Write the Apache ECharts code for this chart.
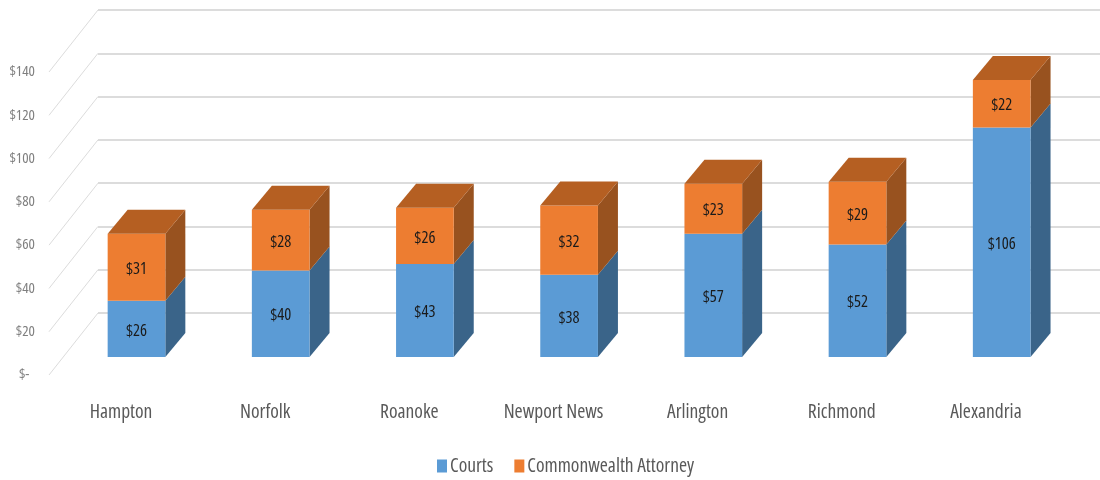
<!DOCTYPE html>
<html lang="en" style="height: 100%">
<head>
  <meta charset="utf-8">
  <script type="text/javascript" src="https://cdn.jsdelivr.net/npm/echarts@6/dist/echarts.min.js"></script>
</head>
<body style="height: 100%; margin: 0; background: #fff">
  <div id="main" style="height: 480px; width: 1100px"></div>
  <script type="text/javascript">
    var cities = ['Hampton', 'Norfolk', 'Roanoke', 'Newport News', 'Arlington', 'Richmond', 'Alexandria'];
    var courts = [26, 40, 43, 38, 57, 52, 106];
    var attorney = [31, 28, 26, 32, 23, 29, 22];
    var ticks = [0, 20, 40, 60, 80, 100, 120, 140];

    var font = '"Open Sans", sans-serif';
    var stretch = 'extra-condensed';
    var chart = echarts.init(document.getElementById('main'));

    // depth of the fake 3d boxes, in pixels
    var depthX = 20;
    var depthY = 24;

    function box(front, side, top, withTop) {
      return function (params, api) {
        var c = api.value(0);
        var low = api.coord([c, api.value(1)]);
        var high = api.coord([c, api.value(2)]);
        var w = api.size([1, 0])[0] * 0.4;
        var x0 = low[0] - w / 2;
        var x1 = low[0] + w / 2;
        var kids = [
          { type: 'polygon', shape: { points: [[x1, low[1]], [x1 + depthX, low[1] - depthY], [x1 + depthX, high[1] - depthY], [x1, high[1]]] }, style: { fill: side } },
          { type: 'rect', shape: { x: x0, y: high[1], width: w, height: low[1] - high[1] }, style: { fill: front } }
        ];
        if (withTop) {
          kids.push({ type: 'polygon', shape: { points: [[x0, high[1]], [x1, high[1]], [x1 + depthX, high[1] - depthY], [x0 + depthX, high[1] - depthY]] }, style: { fill: top } });
        }
        kids.push({
          type: 'text',
          style: {
            text: '$' + (api.value(2) - api.value(1)),
            x: low[0],
            y: (low[1] + high[1]) / 2 + 2,
            align: 'center',
            verticalAlign: 'middle',
            fill: '#1a1a1a',
            fontStyle: stretch,
            fontSize: 16.5,
            fontFamily: font
          }
        });
        return { type: 'group', children: kids };
      };
    }

    var option = {
      animation: false,
      backgroundColor: '#fff',
      legend: {
        data: ['Courts', 'Commonwealth Attorney'],
        left: 432,
        top: 451,
        icon: 'rect',
        itemWidth: 10,
        itemHeight: 13,
        itemGap: 21,
        textStyle: { color: '#595959', fontStyle: stretch, fontFamily: font, fontSize: 19.5, padding: [0, 0, 0, -2] }
      },
      grid: [
        { left: 98, right: 0, top: 10, height: 303 },
        { left: 49, width: 1009, top: 72, height: 303 },
        { left: 64.4, width: 1009.4, top: 54, height: 303 }
      ],
      xAxis: [
        { gridIndex: 0, type: 'category', data: cities, show: false },
        {
          gridIndex: 1, type: 'category', data: cities,
          axisLine: { show: false }, axisTick: { show: false },
          axisLabel: { interval: 0, color: '#595959', fontStyle: stretch, fontFamily: font, fontSize: 19.5, margin: 27 }
        },
        { gridIndex: 2, type: 'category', data: cities, show: false }
      ],
      yAxis: [
        {
          gridIndex: 0, type: 'value', min: 0, max: 140, interval: 20,
          axisLine: { show: false }, axisTick: { show: false }, axisLabel: { show: false },
          splitLine: { show: true, lineStyle: { color: '#dcdcdc', width: 2 } }
        },
        {
          gridIndex: 1, type: 'value', min: 0, max: 140, interval: 20,
          axisLine: { show: false }, axisTick: { show: false }, splitLine: { show: false },
          axisLabel: {
            color: '#7f7f7f', fontStyle: stretch, fontFamily: font, fontSize: 15, margin: 14,
            formatter: function (v) { return v === 0 ? '$-  ' : '$' + v; }
          }
        },
        { gridIndex: 2, type: 'value', min: 0, max: 140, interval: 20, show: false }
      ],
      series: [
        {
          type: 'custom',
          xAxisIndex: 1,
          yAxisIndex: 1,
          silent: true,
          data: ticks.map(function (v) { return [0, v]; }),
          renderItem: function (params, api) {
            var p = api.coord([0, api.value(1)]);
            var x = params.coordSys.x;
            return { type: 'line', shape: { x1: x, y1: p[1], x2: x + 49, y2: p[1] - 62 }, style: { stroke: '#dcdcdc', lineWidth: 1 } };
          }
        },
        {
          name: 'Courts',
          type: 'custom',
          xAxisIndex: 2,
          yAxisIndex: 2,
          itemStyle: { color: '#5b9bd5' },
          encode: { x: 0, y: [1, 2] },
          data: courts.map(function (v, i) { return [i, 0, v]; }),
          renderItem: box('#5b9bd5', '#3a6489', '#3a6489', false)
        },
        {
          name: 'Commonwealth Attorney',
          type: 'custom',
          xAxisIndex: 2,
          yAxisIndex: 2,
          itemStyle: { color: '#ed7d31' },
          encode: { x: 0, y: [1, 2] },
          data: attorney.map(function (v, i) { return [i, courts[i], courts[i] + v]; }),
          renderItem: box('#ed7d31', '#98521f', '#b55f22', true)
        }
      ]
    };

    chart.setOption(option);
  </script>
</body>
</html>
